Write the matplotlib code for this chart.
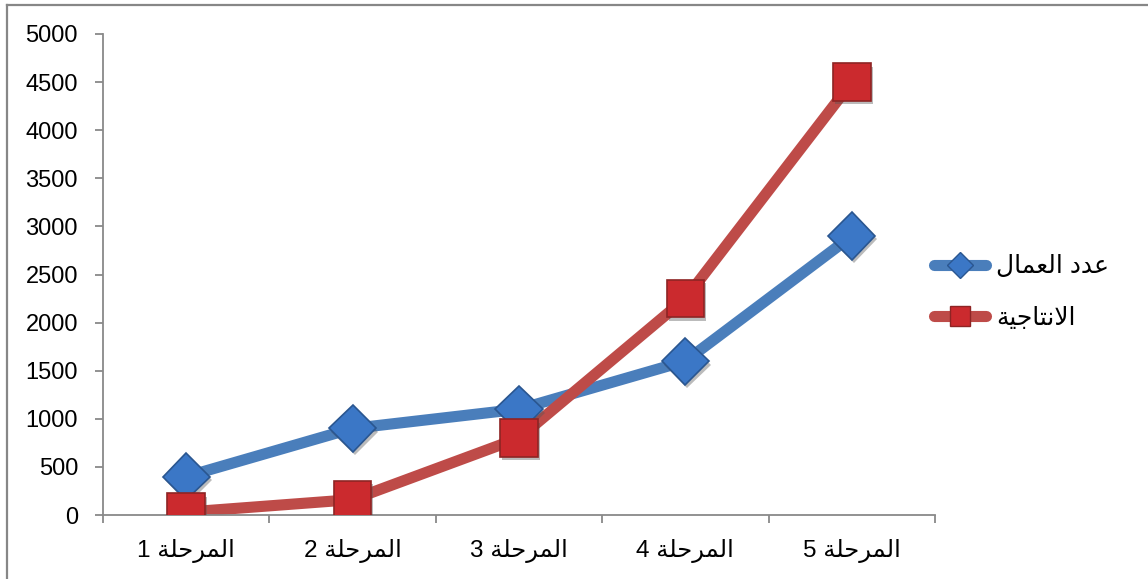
import matplotlib
matplotlib.use("Agg")
import matplotlib.pyplot as plt
from matplotlib.lines import Line2D
import matplotlib.patheffects as pe

# Arabic text is stored pre-shaped (presentation forms) in visual order,
# because matplotlib does not apply Arabic shaping or bidi reordering.
stage_word = "\uFE94\uFEE0\uFEA3\uFEAE\uFEE4\uFEDF\uFE8D"          # المرحلة
categories = [f"{n} {stage_word}" for n in range(1, 6)]
series_names = [
    "\uFEDD\uFE8E\uFEE4\uFECC\uFEDF\uFE8D \uFEA9\uFEAA\uFECB",          # عدد العمال
    "\uFE94\uFEF4\uFE9F\uFE8E\uFE98\uFEE7\uFEFB\uFE8D",                # الانتاجية
]
workers = [400, 900, 1100, 1600, 2900]
production = [30, 160, 800, 2250, 4500]
y_ticks = [0, 500, 1000, 1500, 2000, 2500, 3000, 3500, 4000, 4500, 5000]

FONT = ["Liberation Sans", "DejaVu Sans"]
plt.rcParams["font.family"] = FONT

W, H = 1148, 579
fig = plt.figure(figsize=(W / 100, H / 100), dpi=100)
ax = fig.add_axes([103 / W, 1 - 515 / H, (935 - 103) / W, (515 - 34) / H])

x = list(range(len(categories)))
blue_line, red_line = "#4A7EBB", "#BE4B48"
blue_fill, blue_edge = "#3B77C6", "#2A5690"
red_fill, red_edge = "#CB2A2E", "#8E2424"
LW = 8.0

shadow = [pe.withSimplePatchShadow(offset=(1.5, -2.5), shadow_rgbFace="#555555",
                                   alpha=0.4)]

ax.plot(x, workers, color=blue_line, lw=LW, solid_capstyle="round",
        solid_joinstyle="round", zorder=2)
ax.plot(x, production, color=red_line, lw=LW, solid_capstyle="round",
        solid_joinstyle="round", zorder=2)
ax.plot(x, workers, ls="none", marker="D", ms=24, mfc=blue_fill,
        mec=blue_edge, mew=1.2, zorder=3, path_effects=shadow)
ax.plot(x, production, ls="none", marker="s", ms=27, mfc=red_fill,
        mec=red_edge, mew=1.2, zorder=4, path_effects=shadow)

ax.set_xlim(-0.5, len(categories) - 0.5)
ax.set_ylim(0, 5000)
ax.set_yticks(y_ticks)
ax.set_yticklabels([str(v) for v in y_ticks])
ax.set_xticks(x)
ax.set_xticklabels(categories)
ax.set_xticks([i - 0.5 for i in range(len(categories) + 1)], minor=True)

spine_c = "#898989"
for s in ("top", "right"):
    ax.spines[s].set_visible(False)
for s in ("left", "bottom"):
    ax.spines[s].set_color(spine_c)
    ax.spines[s].set_linewidth(1.3)

ax.tick_params(axis="y", length=6, width=1.3, color=spine_c, pad=12,
               labelsize=17, labelcolor="black")
ax.tick_params(axis="x", which="major", length=0, pad=17, labelsize=17.5,
               labelcolor="black")
ax.tick_params(axis="x", which="minor", length=6, width=1.3, color=spine_c)

handles = [
    Line2D([], [], color=blue_line, lw=LW, solid_capstyle="round",
           marker="D", ms=13, mfc=blue_fill, mec=blue_edge, mew=1),
    Line2D([], [], color=red_line, lw=LW, solid_capstyle="round",
           marker="s", ms=15, mfc=red_fill, mec=red_edge, mew=1),
]
fig.legend(handles, series_names, loc="center left",
           bbox_to_anchor=(911 / W, 1 - 292 / H), frameon=False,
           fontsize=18, handlelength=2.1, handletextpad=0.4,
           labelspacing=1.1)

# Outer chart frame (top and left edges)
frame_c = "#878787"
fig.add_artist(Line2D([7 / W, 1], [1 - 5 / H, 1 - 5 / H], color=frame_c,
                      lw=1.6, transform=fig.transFigure))
fig.add_artist(Line2D([7 / W, 7 / W], [0, 1 - 5 / H], color=frame_c,
                      lw=1.6, transform=fig.transFigure))

fig.savefig("out.png", dpi=100)
